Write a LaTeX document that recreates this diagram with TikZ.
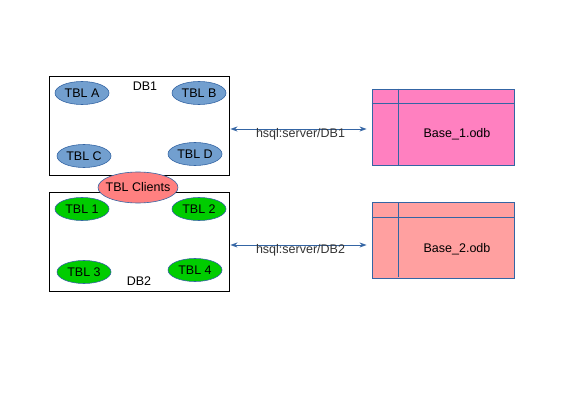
\documentclass[tikz,border=0pt]{standalone}
\usepackage{fontspec}
\setmainfont{Liberation Sans}
\usepackage{tikz}
\usetikzlibrary{positioning, shapes.geometric, arrows.meta}
\usepackage{xcolor}

\definecolor{linkblue}{HTML}{3465A4}
\definecolor{tblblue}{HTML}{729FCF}
\definecolor{tblgreen}{HTML}{00CC00}
\definecolor{clientred}{HTML}{FF8080}
\definecolor{base1pink}{HTML}{FF80C0}
\definecolor{base2pink}{HTML}{FFA0A0}

\begin{document}
\begin{tikzpicture}[
    x=1pt, y=-1pt,
    every node/.style={font=\fontsize{12.5}{14}\selectfont, inner sep=0pt},
    dbbox/.style={draw=black, line width=0.9pt, minimum width=180pt, minimum height=99pt},
    tbl/.style={ellipse, draw=linkblue, line width=0.6pt, minimum width=54pt, minimum height=23pt},
    basebox/.style={draw=linkblue, line width=0.9pt, minimum width=142pt, minimum height=76pt},
    arrow/.style={<->, >={Stealth[length=7pt, width=5pt]}, draw=linkblue, line width=0.8pt, shorten <=1pt, shorten >=5pt},
    linktext/.style={text=black!80}
  ]
    \useasboundingbox (0,0) rectangle (567,401);

    % the two databases
    \node[dbbox] (db1) at (139,125.5) {};
    \node[dbbox] (db2) at (139,241.5) {};
    \node (db1lbl) at (145,86) {DB1};
    \node (db2lbl) at (139,281) {DB2};

    \node[tbl, fill=tblblue] (tbla) at (82,93) {TBL A};
    \node[tbl, fill=tblblue] (tblb) at (199,93) {TBL B};
    \node[tbl, fill=tblblue] (tblc) at (84,156) {TBL C};
    \node[tbl, fill=tblblue] (tbld) at (195,154) {TBL D};

    \node[tbl, fill=tblgreen] (tbl1) at (82,209) {TBL 1};
    \node[tbl, fill=tblgreen] (tbl2) at (199,209) {TBL 2};
    \node[tbl, fill=tblgreen] (tbl3) at (84,272) {TBL 3};
    \node[tbl, fill=tblgreen] (tbl4) at (195,270) {TBL 4};

    \node[tbl, fill=clientred, inner xsep=-9pt, minimum width=80pt, minimum height=31pt] (clients) at (138,187.5) {TBL Clients};

    % base files
    \node[basebox, fill=base1pink] (base1) at (443,127) {};
    \node[basebox, fill=base2pink] (base2) at (443,240.5) {};
    \draw[linkblue, line width=0.9pt] (base1.north west) ++(0,15) -- ++(142,0);
    \draw[linkblue, line width=0.9pt] (base1.north west) ++(27,0) -- ++(0,76);
    \draw[linkblue, line width=0.9pt] (base2.north west) ++(0,15) -- ++(142,0);
    \draw[linkblue, line width=0.9pt] (base2.north west) ++(27,0) -- ++(0,75);
    \node (base1lbl) at (457,134) {Base\_1.odb};
    \node (base2lbl) at (457,249) {Base\_2.odb};

    % links
    \draw[arrow] ([yshift=-3.5pt]db1.east) -- ([yshift=-3.5pt]db1.east -| base1.west)
      node[midway, linktext, yshift=-5pt] {hsql:server/DB1};
    \draw[arrow] ([yshift=-3.5pt]db2.east) -- ([yshift=-3.5pt]db2.east -| base2.west)
      node[midway, linktext, yshift=-5pt] {hsql:server/DB2};
  \end{tikzpicture}
\end{document}
